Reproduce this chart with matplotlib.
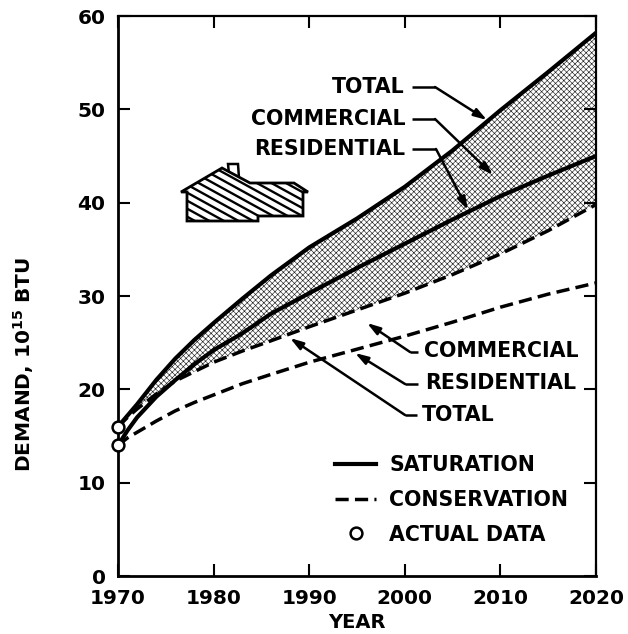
import numpy as np
import matplotlib
matplotlib.use("Agg")
import matplotlib.pyplot as plt
from matplotlib.patches import Polygon

# values
years = [1970, 1971, 1972, 1974, 1976, 1978, 1980, 1983, 1986, 1990, 1995, 2000, 2005, 2010, 2015, 2020]
sat_total = [16, 17.2, 18.4, 21, 23.3, 25.3, 27.1, 29.7, 32.2, 35.2, 38.3, 41.7, 45.6, 49.9, 54, 58.2]
sat_res = [14, 15.6, 17, 19.2, 21, 22.7, 24.2, 26, 28.1, 30.3, 33, 35.6, 38.2, 40.7, 42.9, 45]
cons_total = [16, 17, 17.9, 19.5, 20.9, 21.9, 22.9, 24.1, 25.2, 26.7, 28.5, 30.3, 32.3, 34.5, 37, 39.8]
cons_res = [14, 14.8, 15.4, 16.6, 17.7, 18.6, 19.4, 20.6, 21.6, 22.9, 24.3, 25.7, 27.2, 28.8, 30.2, 31.4]
actual_years = [1970, 1970]
actual_vals = [16, 14]
x_ticks = [1970, 1980, 1990, 2000, 2010, 2020]
y_ticks = [0, 10, 20, 30, 40, 50, 60]

W, H = 628, 634
L, R, T, B = 118, 596, 16, 576

plt.rcParams["font.family"] = "DejaVu Sans"
plt.rcParams["font.weight"] = "bold"
plt.rcParams["hatch.linewidth"] = 0.45

fig = plt.figure(figsize=(W / 100, H / 100), dpi=100)
ax = fig.add_axes([L / W, 1 - B / H, (R - L) / W, (B - T) / H])
ax.set_xlim(1970, 2020)
ax.set_ylim(0, 60)


def pix(x, y):
    # picture pixels to data coordinates, for the leaders and the house
    return 1970 + (x - L) * 50 / (R - L), (B - y) * 60 / (B - T)


ax.fill_between(years, sat_total, cons_total, facecolor="white", edgecolor="#222222",
                hatch="xxxxxx", linewidth=0, zorder=1)
ax.plot(years, sat_total, color="black", lw=3, zorder=3, label="SATURATION")
ax.plot(years, sat_res, color="black", lw=3, zorder=3)
ax.plot(years, cons_total, color="black", lw=2.5, dashes=(3.8, 1.8), zorder=3)
ax.plot(years, cons_res, color="black", lw=2.5, dashes=(3.8, 1.8), zorder=3, label="CONSERVATION")
ax.plot(actual_years, actual_vals, "o", ms=8.5, mfc="white", mec="black", mew=1.8, ls="none",
        clip_on=False, zorder=5, label="ACTUAL DATA")

# leaders with arrows, label then elbow then tip
leaders = [
    ("TOTAL", 405, 87, (412, 87), (435, 87), (487, 120), "right"),
    ("COMMERCIAL", 405, 119, (412, 119), (435, 119), (493, 175), "right"),
    ("RESIDENTIAL", 405, 149, (412, 149), (436, 149), (468, 210), "right"),
    ("COMMERCIAL", 424, 351, (418, 352), (410, 352), (367, 323), "left"),
    ("RESIDENTIAL", 425, 383, (418, 384), (405, 384), (355, 353), "left"),
    ("TOTAL", 422, 415, (417, 415), (405, 415), (290, 338), "left"),
]
for name, tx, ty, start, elbow, tip, ha in leaders:
    ax.text(*pix(tx, ty), name, ha=ha, va="center", fontsize=14.8, zorder=6)
    ax.plot(*zip(pix(*start), pix(*elbow)), color="black", lw=1.8, zorder=4, solid_capstyle="butt")
    ax.annotate("", xy=pix(*tip), xytext=pix(*elbow),
                arrowprops=dict(arrowstyle="-|>,head_length=0.7,head_width=0.22", color="black", lw=1.8,
                                mutation_scale=11, shrinkA=0, shrinkB=0), zorder=4)

# house icon
roof = [(181, 192), (222, 168), (250, 183), (294, 183), (308, 192), (303, 192), (303, 216),
        (258, 216), (258, 221), (187, 221), (187, 192)]
chimney = [(229, 174), (228, 164), (238, 164), (239, 178)]
ax.add_patch(Polygon([pix(*p) for p in chimney], closed=True, fc="white", ec="black", lw=1.8, zorder=3))
house = Polygon([pix(*p) for p in roof], closed=True, fc="white", ec="black", lw=2, zorder=4)
ax.add_patch(house)
for y0 in range(90, 240, 8):
    line, = ax.plot(*zip(pix(175, y0), pix(315, y0 + 77)), color="black", lw=1.7, zorder=4.1)
    line.set_clip_path(house)

for s in ax.spines.values():
    s.set_linewidth(2)
ax.spines["right"].set_linewidth(1.6)
ax.spines["top"].set_linewidth(1.6)

ax.set_xticks(x_ticks)
ax.set_yticks(y_ticks)
ax.tick_params(direction="in", length=8.5, width=1.5, top=True, right=True, labelsize=14.5)
ax.tick_params(axis="y", pad=9)
ax.tick_params(axis="x", pad=9)

fig.text(24 / W, 1 - 364 / H, r"DEMAND, 10$^{\mathbf{15}}$ BTU", rotation=90, ha="center", va="center",
         fontsize=14.5)
fig.text(357 / W, 1 - 623 / H, "YEAR", ha="center", va="center", fontsize=14)

leg = ax.legend(loc="upper left", bbox_to_anchor=((335 - L) / (R - L), (B - 455) / (B - T)),
                frameon=False, fontsize=14.8, handlelength=2, handletextpad=0.65,
                labelspacing=0.72, borderpad=0, borderaxespad=0)

fig.savefig("out.png", dpi=100)
